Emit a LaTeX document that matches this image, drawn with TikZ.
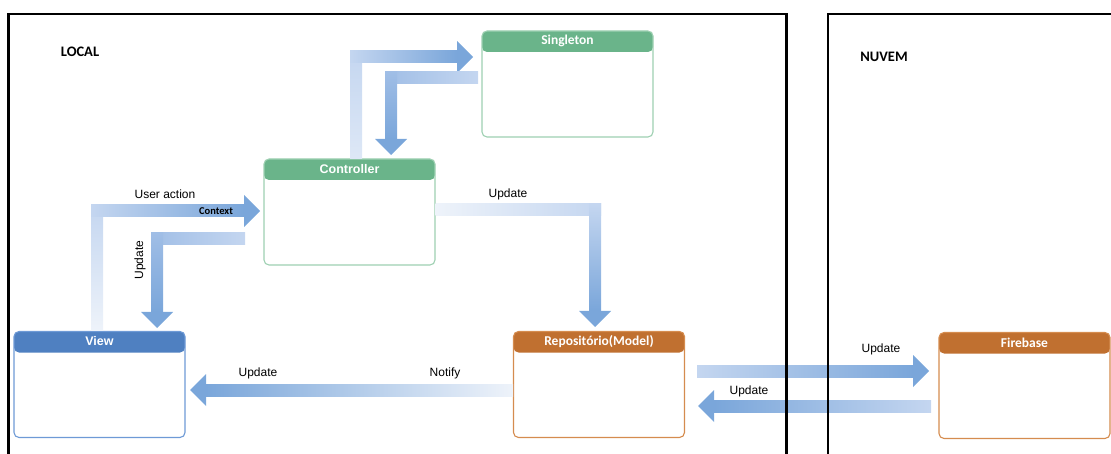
\documentclass[tikz,border=0pt]{standalone}
\usepackage{fontspec}
\setmainfont{Liberation Sans}
\newfontfamily\calibri{Carlito}
\usepackage{tikz}
\usetikzlibrary{
	calc,
	positioning
}
\definecolor{HeadGreen}{RGB}{106,180,138}
\definecolor{EdgeGreen}{RGB}{158,208,178}
\definecolor{HeadBlue}{RGB}{79,128,193}
\definecolor{EdgeBlue}{RGB}{110,154,214}
\definecolor{HeadOrange}{RGB}{192,112,48}
\definecolor{EdgeOrange}{RGB}{213,140,79}
\definecolor{ArrowDark}{RGB}{122,166,218}
\definecolor{ArrowMid}{RGB}{160,190,230}
\definecolor{ArrowPale}{RGB}{196,214,240}
\definecolor{ArrowFaint}{RGB}{238,243,250}

% block arrow pieces
\newcommand\hshaft[4]{\shade[left color=#3, right color=#4] ($(#1)+(0,-6)$) rectangle ($(#2)+(0,6)$);}
\newcommand\vshaft[4]{\shade[top color=#3, bottom color=#4] ($(#1)+(-6,0)$) rectangle ($(#2)+(6,0)$);}
\newcommand\tipright[1]{\fill[ArrowDark] ($(#1)+(-16,-16)$) -- (#1) -- ($(#1)+(-16,16)$) -- cycle;}
\newcommand\tipleft[1]{\fill[ArrowDark] ($(#1)+(16,-16)$) -- (#1) -- ($(#1)+(16,16)$) -- cycle;}
\newcommand\tipdown[1]{\fill[ArrowDark] ($(#1)+(-16,-16)$) -- (#1) -- ($(#1)+(16,-16)$) -- cycle;}

\begin{document}
\begin{tikzpicture}[x=1pt, y=-1pt,
	box/.style 2 args={draw=#2, line width=1.1pt, fill=white, rounded corners=5pt,
		minimum width=171pt, minimum height=106pt, inner sep=0pt,
		path picture={\fill[#1] (path picture bounding box.north west) rectangle ([yshift=-21pt]path picture bounding box.north east);}},
	hdr/.style={text=white, inner sep=0pt, font=\fontsize{12.5}{14}\selectfont\bfseries},
	hdrc/.style={text=white, inner sep=0pt, font=\calibri\fontsize{13.5}{15}\selectfont\bfseries},
	lbl/.style={inner sep=0pt, font=\fontsize{12}{14}\selectfont},
	zone/.style={line width=2.5pt},
	zonetitle/.style={inner sep=0pt, font=\calibri\fontsize{14.5}{16}\selectfont\bfseries}
]
	\useasboundingbox (0,0) rectangle (1111,454);
	
	% boxes
	\node[box={HeadGreen}{EdgeGreen}] (sing) at (567.5,84) {};
	\node[box={HeadGreen}{EdgeGreen}] (ctrl) at (349.5,212) {};
	\node[box={HeadBlue}{EdgeBlue}] (view) at (99.5,384.5) {};
	\node[box={HeadOrange}{EdgeOrange}] (repo) at (599,384.5) {};
	\node[box={HeadOrange}{EdgeOrange}] (fire) at (1024.5,385.5) {};
	
	\node[hdrc] (singT) at ([yshift=-10.5pt]sing.north) {Singleton};
	\node[hdr] (ctrlT) at ([yshift=-10.5pt]ctrl.north) {Controller};
	\node[hdr] (viewT) at ([yshift=-10.5pt]view.north) {View};
	\node[hdrc] (repoT) at ([yshift=-10.5pt]repo.north) {Repositório(Model)};
	\node[hdrc] (fireT) at ([yshift=-10.5pt]fire.north) {Firebase};
	
	% bends and tips
	\coordinate (b1) at (356,57);  \coordinate (t1) at (473,57);
	\coordinate (s2) at (478,78);  \coordinate (b2) at (391,78);  \coordinate (t2) at (391,155);
	\coordinate (b3) at (97,211);  \coordinate (t3) at (260,211);
	\coordinate (s4) at (245,239); \coordinate (b4) at (157,239); \coordinate (t4) at (157,328);
	\coordinate (b5) at (595,210); \coordinate (t5) at (595,327);
	\coordinate (s6) at (513,390); \coordinate (t6) at (190,390);
	\coordinate (s7) at (697,371); \coordinate (t7) at (929,371);
	\coordinate (s8) at (931,406); \coordinate (t8) at (698,406);
	
	% Controller -> Singleton
	\vshaft{$(b1)+(0,-6)$}{ctrl.north -| b1}{ArrowPale}{ArrowFaint!60!ArrowPale}
	\hshaft{$(b1)+(-6,0)$}{$(t1)+(-16,0)$}{ArrowPale}{ArrowDark}
	\tipright{t1}
	
	% Singleton -> Controller
	\hshaft{$(b2)+(-6,0)$}{s2}{ArrowMid}{ArrowPale}
	\vshaft{$(b2)+(0,-6)$}{$(t2)+(0,-16)$}{ArrowMid}{ArrowDark}
	\tipdown{t2}
	
	% View -> Controller
	\vshaft{$(b3)+(0,-6)$}{view.north -| b3}{ArrowPale}{ArrowFaint}
	\hshaft{$(b3)+(-6,0)$}{$(t3)+(-16,0)$}{ArrowPale}{ArrowDark}
	\tipright{t3}
	\node[lbl] (act) at (165,194) {User action};
	\node[inner sep=0pt, font=\calibri\fontsize{10.5}{12}\selectfont\bfseries] (ctx) at (216,211) {Context};
	
	% Controller -> View
	\hshaft{$(b4)+(-6,0)$}{s4}{ArrowMid}{ArrowPale}
	\vshaft{$(b4)+(0,-6)$}{$(t4)+(0,-16)$}{ArrowMid}{ArrowDark}
	\tipdown{t4}
	\node[lbl, rotate=90] (upd1) at (140,260) {Update};
	
	% Controller -> Repositorio
	\hshaft{ctrl.east |- b5}{$(b5)+(6,0)$}{ArrowFaint}{ArrowPale}
	\vshaft{$(b5)+(0,-6)$}{$(t5)+(0,-16)$}{ArrowPale}{ArrowDark}
	\tipdown{t5}
	\node[lbl] (upd2) at (508,194) {Update};
	
	% Repositorio -> View
	\hshaft{$(t6)+(16,0)$}{s6}{ArrowDark}{ArrowFaint}
	\tipleft{t6}
	\node[lbl] (upd3) at (258,373) {Update};
	\node[lbl] (ntf) at (445,373) {Notify};
	
	% Repositorio <-> Firebase
	\hshaft{s7}{$(t7)+(-16,0)$}{ArrowPale}{ArrowDark}
	\tipright{t7}
	\node[lbl] (upd4) at (881,349) {Update};
	\hshaft{$(t8)+(16,0)$}{s8}{ArrowDark}{ArrowPale}
	\tipleft{t8}
	\node[lbl] (upd5) at (749,391) {Update};
	
	% zones
	\draw[zone] (8.5,460) -- (8.5,14) -- (786.5,14) -- (786.5,460);
	\draw[zone] (828,460) -- (828,14) -- (1120,14);
	\node[zonetitle] (local) at (80,52) {LOCAL};
	\node[zonetitle] (nuvem) at (884,57) {NUVEM};
\end{tikzpicture}
\end{document}
